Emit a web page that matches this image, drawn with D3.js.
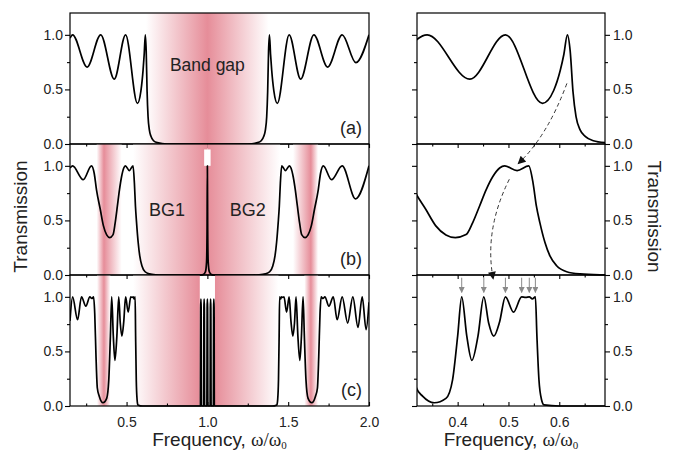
<!DOCTYPE html>
<html>
<head>
<meta charset="utf-8">
<script src="https://cdnjs.cloudflare.com/ajax/libs/d3/7.8.5/d3.min.js"></script>
<style>
  body { margin: 0; background: #fff; }
  svg text { font-family: "Liberation Sans", Arial, sans-serif; fill: #222; }
  .tick line { stroke: #000; stroke-width: 1.1; }
</style>
</head>
<body>
<div id="chart"></div>
<script>
// transmission spectra, one [frequency, T] list per structure (a), (b), (c)
const specA = [[0.150,0.97],[0.166,1.00],[0.256,0.705],[0.340,1.00],[0.424,0.594],[0.494,1.00],[0.567,0.373],
  [0.589,0.49],[0.602,0.675],[0.609,0.82],[0.616,1.00],[0.6215,0.85],[0.627,0.48],[0.633,0.25],[0.641,0.13],
  [0.651,0.07],[0.667,0.03],[0.690,0.012],[0.750,0.0],[1.250,0.0],[1.310,0.012],[1.333,0.03],[1.349,0.07],
  [1.359,0.13],[1.367,0.25],[1.373,0.48],[1.3785,0.85],[1.384,1.00],[1.391,0.82],[1.398,0.675],[1.411,0.49],
  [1.433,0.373],[1.506,1.00],[1.577,0.594],[1.659,1.00],[1.744,0.705],[1.834,1.00],[1.919,0.745],[2.000,1.00]];

const specB = [[0.150,0.98],[0.166,1.00],[0.232,0.873],[0.283,1.00],[0.300,0.93],[0.314,0.78],[0.3375,0.60],
  [0.357,0.45],[0.377,0.367],[0.3955,0.343],[0.4166,0.37],[0.4297,0.48],[0.443,0.63],[0.456,0.78],[0.469,0.90],
  [0.4826,0.98],[0.4925,1.00],[0.517,0.957],[0.540,1.00],[0.5485,0.84],[0.555,0.63],[0.5618,0.48],[0.5717,0.30],
  [0.5816,0.175],[0.5948,0.085],[0.6146,0.03],[0.641,0.01],[0.680,0.002],[0.720,0.0],[0.960,0.0],[0.975,0.005],
  [0.988,0.03],[0.995,0.12],[0.998,0.4],[1.000,1.00],[1.002,0.4],[1.005,0.12],[1.012,0.03],[1.025,0.005],
  [1.040,0.0],[1.280,0.0],[1.320,0.002],[1.359,0.01],[1.3854,0.03],[1.4052,0.085],[1.4184,0.175],[1.4283,0.30],
  [1.4382,0.48],[1.445,0.63],[1.4515,0.84],[1.460,1.00],[1.483,0.957],[1.5075,1.00],[1.5174,0.98],[1.531,0.90],
  [1.544,0.78],[1.557,0.63],[1.5703,0.48],[1.5834,0.37],[1.6045,0.343],[1.623,0.367],[1.643,0.45],[1.6625,0.60],
  [1.686,0.78],[1.700,0.93],[1.717,1.00],[1.768,0.873],[1.834,1.00],[1.917,0.697],[2.000,1.00]];

const specC = [[0.150,0.78],[0.166,1.00],[0.197,0.79],[0.221,1.00],[0.248,0.914],[0.273,1.00],[0.285,0.985],
  [0.296,1.00],[0.303,0.85],[0.311,0.45],[0.319,0.165],[0.331,0.09],[0.354,0.03],[0.377,0.07],[0.390,0.24],
  [0.400,0.64],[0.408,1.00],[0.418,0.64],[0.428,0.418],[0.440,0.64],[0.4515,1.00],[0.461,0.76],[0.471,0.64],
  [0.4825,0.77],[0.494,1.00],[0.510,0.86],[0.526,1.00],[0.534,0.995],[0.541,1.00],[0.547,0.98],[0.553,1.00],
  [0.556,0.64],[0.560,0.24],[0.565,0.06],[0.570,0.01],[0.600,0.0],[0.950,0.0],
  [0.957,0.0],[0.9585,0.9],[0.960,0.98],[0.9615,0.9],[0.963,0.0],[0.977,0.0],[0.9785,0.9],[0.980,0.98],[0.9815,0.9],
  [0.983,0.0],[0.997,0.0],[0.9985,0.9],[1.000,0.98],[1.0015,0.9],[1.003,0.0],[1.017,0.0],[1.0185,0.9],[1.020,0.98],
  [1.0215,0.9],[1.023,0.0],[1.037,0.0],[1.0385,0.9],[1.040,0.98],[1.0415,0.9],[1.043,0.0],[1.050,0.0],
  [1.400,0.0],[1.430,0.01],[1.435,0.06],[1.440,0.24],[1.444,0.64],[1.447,1.00],[1.453,0.98],[1.459,1.00],
  [1.466,0.995],[1.474,1.00],[1.490,0.86],[1.506,1.00],[1.5175,0.77],[1.529,0.64],[1.539,0.76],[1.5485,1.00],
  [1.560,0.64],[1.572,0.418],[1.582,0.64],[1.592,1.00],[1.600,0.64],[1.610,0.24],[1.623,0.07],[1.646,0.03],
  [1.669,0.09],[1.681,0.165],[1.689,0.45],[1.697,0.85],[1.704,1.00],[1.715,0.985],[1.727,1.00],[1.752,0.914],
  [1.779,1.00],[1.803,0.79],[1.834,1.00],[1.868,0.76],[1.900,1.00],[1.932,0.72],[1.958,1.00],[1.982,0.70],[2.000,0.95]];

// shaded bands: [start, darkest, end] in ω/ω0
const bandsA = [[0.62, 1.0, 1.38]];
const bandsB = [[0.315, 0.36, 0.47], [0.54, 1.0, 1.0], [1.0, 1.0, 1.45], [1.53, 1.64, 1.685]];
const bandsC = [[0.317, 0.36, 0.40], [0.54, 0.953, 0.953], [1.047, 1.047, 1.44], [1.60, 1.64, 1.685]];

const panelNames = ['(a)', '(b)', '(c)'];
const gapLabels = [{ text: 'Band gap', f: 1.0, t: 0.67, p: 0 }, { text: 'BG1', f: 0.75, t: 0.54, p: 1 }, { text: 'BG2', f: 1.25, t: 0.54, p: 1 }];
const modeMarks = [0.408, 0.4515, 0.494, 0.526, 0.541, 0.553];
const links = [
  { from: [0.615, 0.555, 0], via: [0.576, 0.066, 0], to: [0.519, 1.02, 1] },
  { from: [0.5017, 0.877, 1], via: [0.4517, 0.411, 1], to: [0.470, 1.163, 2] }
];

const yMajor = [0, 0.5, 1.0], yMinor = [0.25, 0.75];
const xMajorL = [0.5, 1.0, 1.5, 2.0], xMinorL = [0.25, 0.75, 1.25, 1.75];
const xMajorR = [0.4, 0.5, 0.6], xMinorR = [0.35, 0.45, 0.55, 0.65];

const width = 676, height = 453,
      topY = 13, ph = 131,
      pink = '#e68d99';

const svg = d3.select('#chart').append('svg')
    .attr('width', width)
    .attr('height', height);
const defs = svg.append('defs');

const xL = d3.scaleLinear().domain([0.15, 2.0]).range([70, 369]);
const xR = d3.scaleLinear().domain([0.32, 0.69]).range([417, 605]);
const yS = [0, 1, 2].map(i => d3.scaleLinear().domain([0, 1.2]).range([topY + ph * (i + 1), topY + ph * i]));

const specs = [specA, specB, specC];
const bands = [bandsA, bandsB, bandsC];

// arrow heads
defs.append('marker')
    .attr('id', 'headBlack')
    .attr('viewBox', '0 0 10 10')
    .attr('refX', 9).attr('refY', 5)
    .attr('markerWidth', 10).attr('markerHeight', 8)
    .attr('markerUnits', 'userSpaceOnUse')
    .attr('orient', 'auto')
  .append('path').attr('d', 'M0,0 L10,5 L0,10 z').attr('fill', '#111');
defs.append('marker')
    .attr('id', 'headGrey')
    .attr('viewBox', '0 0 10 10')
    .attr('refX', 9).attr('refY', 5)
    .attr('markerWidth', 6).attr('markerHeight', 6)
    .attr('markerUnits', 'userSpaceOnUse')
    .attr('orient', 'auto')
  .append('path').attr('d', 'M0,0 L10,5 L0,10 z').attr('fill', '#8a8a8a');

[0, 1, 2].forEach(i => {
  const y = yS[i];

  // band shading (left column only)
  bands[i].forEach((b, j) => {
    const id = `grad${i}${j}`;
    const peak = (b[1] - b[0]) / (b[2] - b[0]);
    const g = defs.append('linearGradient').attr('id', id)
        .attr('x1', 0).attr('x2', 1).attr('y1', 0).attr('y2', 0);
    if (peak > 0) g.append('stop').attr('offset', 0).attr('stop-color', '#fff');
    g.append('stop').attr('offset', peak).attr('stop-color', pink);
    if (peak < 1) g.append('stop').attr('offset', 1).attr('stop-color', '#fff');
    svg.append('rect')
        .attr('x', xL(b[0]))
        .attr('y', y(1.2))
        .attr('width', xL(b[2]) - xL(b[0]))
        .attr('height', y(0) - y(1.2))
        .attr('fill', `url(#${id})`);
  });
  if (i == 1) {
    // little white notch above the defect mode
    svg.append('rect')
        .attr('x', xL(0.98)).attr('y', y(1.15))
        .attr('width', xL(1.02) - xL(0.98))
        .attr('height', y(1.0) - y(1.15))
        .attr('fill', '#fff');
  }

  // curves, clipped to each frame
  [[xL, 'L'], [xR, 'R']].forEach(([x, side]) => {
    const cid = `clip${side}${i}`;
    defs.append('clipPath').attr('id', cid)
      .append('rect')
        .attr('x', x.range()[0]).attr('y', y(1.2))
        .attr('width', x.range()[1] - x.range()[0])
        .attr('height', y(0) - y(1.2) + 1);
    const line = d3.line()
        .x(d => x(d[0]))
        .y(d => y(d[1]))
        .curve(d3.curveMonotoneX);
    svg.append('path')
        .datum(specs[i])
        .attr('clip-path', `url(#${cid})`)
        .attr('d', line)
        .attr('fill', 'none')
        .attr('stroke', '#000')
        .attr('stroke-width', 1.7)
        .attr('stroke-linejoin', 'round');

    // frame
    svg.append('rect')
        .attr('x', x.range()[0]).attr('y', y(1.2))
        .attr('width', x.range()[1] - x.range()[0])
        .attr('height', y(0) - y(1.2))
        .attr('fill', 'none')
        .attr('stroke', '#000')
        .attr('stroke-width', 1.2);
  });

  // y axes
  const fmt = d3.format('.1f');
  const yl = svg.append('g').attr('transform', `translate(${xL.range()[0]},0)`);
  yl.call(d3.axisLeft(y).tickValues(yMajor).tickSize(5).tickPadding(2).tickFormat(fmt));
  yl.append('g').call(d3.axisLeft(y).tickValues(yMinor).tickSize(3).tickFormat(''));
  const yr = svg.append('g').attr('transform', `translate(${xR.range()[1]},0)`);
  yr.call(d3.axisRight(y).tickValues(yMajor).tickSize(5).tickPadding(3).tickFormat(fmt));
  yr.append('g').call(d3.axisRight(y).tickValues(yMinor).tickSize(3).tickFormat(''));
  const yr2 = svg.append('g').attr('transform', `translate(${xR.range()[0]},0)`);
  yr2.call(d3.axisLeft(y).tickValues(yMajor).tickSize(5).tickFormat(''));
  yr2.append('g').call(d3.axisLeft(y).tickValues(yMinor).tickSize(3).tickFormat(''));

  // x axes
  [[xL, xMajorL, xMinorL], [xR, xMajorR, xMinorR]].forEach(([x, maj, mnr]) => {
    const gx = svg.append('g').attr('transform', `translate(0,${y(0)})`);
    if (i < 2) {
      gx.call(d3.axisBottom(x).tickValues(maj).tickSize(4).tickFormat(''));
      gx.append('g').call(d3.axisBottom(x).tickValues(mnr).tickSize(2.5).tickFormat(''));
    } else {
      gx.call(d3.axisBottom(x).tickValues(maj).tickSizeInner(-4).tickSizeOuter(0).tickPadding(11).tickFormat(fmt));
      gx.append('g').call(d3.axisBottom(x).tickValues(mnr).tickSizeInner(-2.5).tickSizeOuter(0).tickFormat(''));
    }
  });

  // panel letter
  svg.append('text')
      .attr('x', xL.range()[1] - 7)
      .attr('y', y(0.09))
      .attr('text-anchor', 'end')
      .style('font-size', '18px')
      .text(panelNames[i]);
});

svg.selectAll('.domain').remove();
svg.selectAll('.tick text').style('font-size', '14px').attr('fill', '#222');

// band gap names
gapLabels.forEach(d => {
  svg.append('text')
      .attr('x', xL(d.f))
      .attr('y', yS[d.p](d.t))
      .attr('text-anchor', 'middle')
      .style('font-size', d.p == 0 ? '17.5px' : '18px')
      .text(d.text);
});

// grey markers over the modes in (c)
svg.selectAll('.mode')
  .data(modeMarks)
  .enter()
    .append('line')
      .attr('x1', d => xR(d)).attr('x2', d => xR(d))
      .attr('y1', yS[2](1.175)).attr('y2', yS[2](1.04))
      .attr('stroke', '#8a8a8a')
      .attr('stroke-width', 1)
      .attr('marker-end', 'url(#headGrey)');

// dashed links between the right panels
links.forEach(l => {
  const p = d => [xR(d[0]), yS[d[2]](d[1])];
  const a = p(l.from), c = p(l.via), b = p(l.to);
  svg.append('path')
      .attr('d', `M${a[0]},${a[1]} Q${c[0]},${c[1]} ${b[0]},${b[1]}`)
      .attr('fill', 'none')
      .attr('stroke', '#333')
      .attr('stroke-width', 1)
      .attr('stroke-dasharray', '4,3')
      .attr('marker-end', 'url(#headBlack)');
});

// axis titles
const yMid = (yS[0].range()[1] + yS[2].range()[0]) / 2;
svg.append('text')
    .attr('transform', `translate(27,${yMid + 7}) rotate(-90)`)
    .attr('text-anchor', 'middle')
    .style('font-size', '19px')
    .text('Transmission');
svg.append('text')
    .attr('transform', `translate(648,${yMid + 7}) rotate(90)`)
    .attr('text-anchor', 'middle')
    .style('font-size', '19px')
    .text('Transmission');

[xL, xR].forEach(x => {
  const t = svg.append('text')
      .attr('x', (x.range()[0] + x.range()[1]) / 2)
      .attr('y', 446)
      .attr('text-anchor', 'middle')
      .style('font-size', '19px');
  t.append('tspan').text('Frequency, ');
  t.append('tspan').style('font-family', '"Liberation Serif", "DejaVu Serif", serif').text('ω/ω');
  t.append('tspan').attr('dy', 3).style('font-size', '11px')
      .style('font-family', '"Liberation Serif", "DejaVu Serif", serif').text('0');
});
</script>
</body>
</html>
